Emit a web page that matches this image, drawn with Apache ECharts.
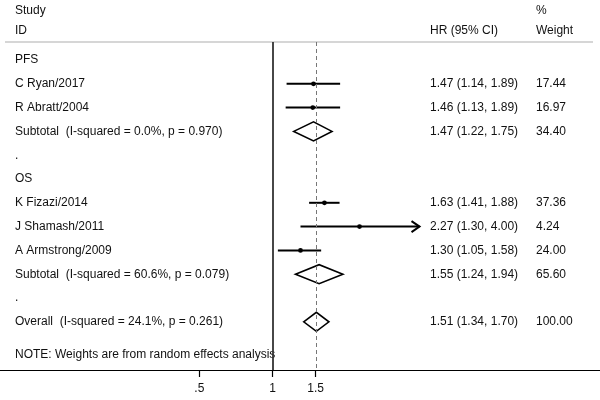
<!DOCTYPE html>
<html>
<head>
<meta charset="utf-8">
<script src="https://cdn.jsdelivr.net/npm/echarts@6/dist/echarts.min.js"></script>
<style>html,body{margin:0;padding:0;background:#fff}#main{width:600px;height:400px}</style>
</head>
<body>
<div id="main"></div>
<script>
// ---- data ----
const studyLabels = ['PFS', 'C Ryan/2017', 'R Abratt/2004', 'Subtotal  (I-squared = 0.0%, p = 0.970)', '.', 'OS',
  'K Fizazi/2014', 'J Shamash/2011', 'A Armstrong/2009', 'Subtotal  (I-squared = 60.6%, p = 0.079)', '.',
  'Overall  (I-squared = 24.1%, p = 0.261)'];
const hr     = [null, 1.47, 1.46, 1.47, null, null, 1.63, 2.27, 1.30, 1.55, null, 1.51];
const lower  = [null, 1.14, 1.13, 1.22, null, null, 1.41, 1.30, 1.05, 1.24, null, 1.34];
const upper  = [null, 1.89, 1.89, 1.75, null, null, 1.88, 4.00, 1.58, 1.94, null, 1.70];
const weights = ['', '17.44', '16.97', '34.40', '', '', '37.36', '4.24', '24.00', '65.60', '', '100.00'];
const rowKind = ['head', 'study', 'study', 'pooled', 'blank', 'head', 'study', 'arrow', 'study', 'pooled', 'blank', 'pooled'];
const xTicks = [0.5, 1, 1.5];
const xTickLabels = ['.5', '1', '1.5'];
const nullLine = 1;
const overallHR = 1.51;
const noteText = 'NOTE: Weights are from random effects analysis';
const noteRow = 12.4;
const headers = { study: 'Study', id: 'ID', hr: 'HR (95% CI)', pct: '%', weight: 'Weight' };

// ---- build ----
const FONT = '"Liberation Sans", Arial, Helvetica, sans-serif';
const TXT = '#111';
const yMin = -0.756, yMax = 13.025;
const rows = studyLabels.map((_, i) => i);
const kinds = { study: 0, pooled: 1, arrow: 2 };
const data = [];
rows.forEach(i => {
  if (hr[i] != null) data.push([hr[i], i, lower[i], upper[i], kinds[rowKind[i]]]);
});
const estText = rows.map(i => hr[i] == null ? '' :
  hr[i].toFixed(2) + ' (' + lower[i].toFixed(2) + ', ' + upper[i].toFixed(2) + ')');

function labelFor(arr, v) {
  if (Math.abs(v - noteRow) < 1e-6) return arr === studyLabels ? noteText : '';
  const i = Math.round(v);
  return arr[i] == null ? '' : arr[i];
}

function yAxisOf(arr, position, margin, custom) {
  return {
    type: 'value', inverse: true, min: yMin, max: yMax, position: position,
    axisLine: { show: false }, axisTick: { show: false }, splitLine: { show: false },
    axisLabel: {
      inside: true, margin: margin, align: 'left', customValues: custom,
      color: TXT, fontSize: 12, fontFamily: FONT,
      formatter: v => labelFor(arr, v)
    }
  };
}

function renderItem(params, api) {
  const est = api.value(0), row = api.value(1), lo = api.value(2), hi = api.value(3), kind = api.value(4);
  const pE = api.coord([est, row]), pL = api.coord([lo, row]), pH = api.coord([hi, row]);
  const y = pE[1];
  if (kind === kinds.pooled) {
    return {
      type: 'polygon',
      shape: { points: [[pL[0], y], [pE[0], y - 9.5], [pH[0], y], [pE[0], y + 9.5]] },
      style: { fill: 'rgba(255,255,255,0)', stroke: '#000', lineWidth: 1.6 }
    };
  }
  const children = [
    { type: 'line', shape: { x1: pL[0], y1: y, x2: pH[0], y2: y }, style: { stroke: '#000', lineWidth: 2 } },
    { type: 'circle', shape: { cx: pE[0], cy: y, r: 2.4 }, style: { fill: '#000' } }
  ];
  if (kind === kinds.arrow) {
    children.push({ type: 'polyline', shape: { points: [[pH[0] - 8, y - 5.5], [pH[0], y], [pH[0] - 8, y + 5.5]] },
      style: { stroke: '#000', lineWidth: 2, fill: null } });
  }
  return { type: 'group', children: children };
}

const chart = echarts.init(document.getElementById('main'), null, { renderer: 'canvas' });
chart.setOption({
  animation: false,
  backgroundColor: '#fff',
  grid: { left: 0, right: 0, top: 42, bottom: 30 },
  xAxis: {
    type: 'log', min: 0.07614, max: 21.99, position: 'bottom',
    axisLine: { onZero: false, lineStyle: { color: '#000', width: 1.2 } },
    axisTick: { customValues: xTicks, length: 7, lineStyle: { color: '#000', width: 1.2 } },
    axisLabel: {
      customValues: xTicks, margin: 13, color: TXT, fontSize: 12, fontFamily: FONT,
      formatter: v => { const k = xTicks.findIndex(t => Math.abs(t - v) < 1e-6); return k >= 0 ? xTickLabels[k] : ''; }
    },
    splitLine: { show: false }
  },
  yAxis: [
    yAxisOf(studyLabels, 'left', 15, rows.concat([noteRow])),
    yAxisOf(estText, 'right', 170, rows),
    yAxisOf(weights, 'right', 64, rows)
  ],
  graphic: [
    { type: 'line', shape: { x1: 5, y1: 42, x2: 593, y2: 42 }, style: { stroke: '#c8c8c8', lineWidth: 1.5 }, z: 0 },
    { type: 'text', x: 15, y: 11, style: { text: headers.study, fill: TXT, font: '12px ' + FONT, verticalAlign: 'middle' } },
    { type: 'text', x: 15, y: 30.5, style: { text: headers.id, fill: TXT, font: '12px ' + FONT, verticalAlign: 'middle' } },
    { type: 'text', x: 430, y: 30.5, style: { text: headers.hr, fill: TXT, font: '12px ' + FONT, verticalAlign: 'middle' } },
    { type: 'text', x: 536, y: 11, style: { text: headers.pct, fill: TXT, font: '12px ' + FONT, verticalAlign: 'middle' } },
    { type: 'text', x: 536, y: 30.5, style: { text: headers.weight, fill: TXT, font: '12px ' + FONT, verticalAlign: 'middle' } }
  ],
  series: [{
    type: 'custom', coordinateSystem: 'cartesian2d', xAxisIndex: 0, yAxisIndex: 0,
    renderItem: renderItem, data: data, encode: { x: 0, y: 1 }, clip: false,
    markLine: {
      silent: true, symbol: 'none', label: { show: false },
      data: [
        { xAxis: nullLine, lineStyle: { color: '#333', width: 1.8, type: 'solid' } },
        { xAxis: overallHR, lineStyle: { color: '#777', width: 1, type: [4, 3] } }
      ]
    }
  }]
});
</script>
</body>
</html>
